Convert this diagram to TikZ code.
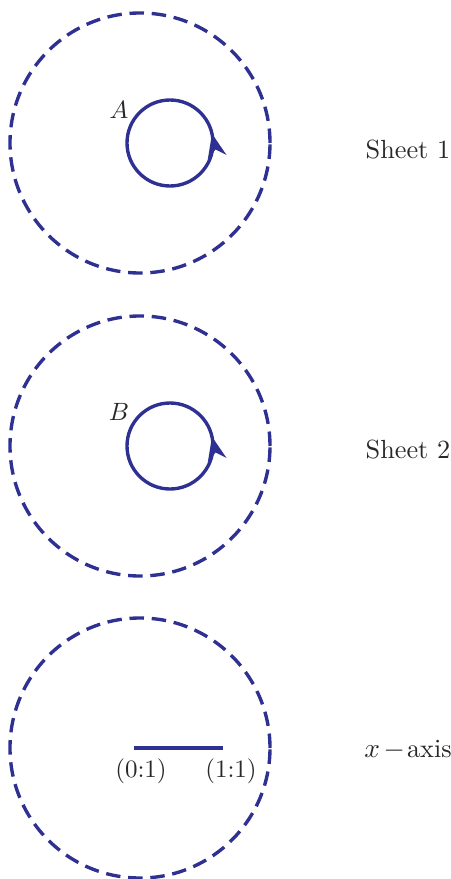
\documentclass[tikz,border=0pt]{standalone}
\usetikzlibrary{arrows.meta,decorations.markings}
\definecolor{sheetblue}{RGB}{46,49,146}
\definecolor{txt}{RGB}{40,40,40}
\begin{document}
\begin{tikzpicture}[x=0.4pt,y=0.4pt,
  outer/.style={draw=sheetblue,line width=1.35pt,dash pattern=on 5.8pt off 3.1pt},
  loopc/.style={draw=sheetblue,line width=1.35pt,postaction={decorate},
    decoration={markings,mark=at position 0.035 with {\arrow{Stealth[length=9.5pt,width=7.5pt,inset=3pt]}}}},
  lbl/.style={text=txt,font=\normalsize},
  side/.style={text=txt,font=\fontsize{10.5}{12}\selectfont},
  seg/.style={draw=sheetblue,line width=1.35pt}]
\useasboundingbox (0,0) rectangle (451,-879);
% Sheet 1
\draw[outer] (140,-143) circle (130);
\draw[loopc] (170,-143) circle (43);
\node[lbl] (A) at (119,-110) {$A$};
\node[side] (s1) at (408,-150) {Sheet 1};
% Sheet 2
\draw[outer] (140,-446) circle (130);
\draw[loopc] (170,-446) circle (43);
\node[lbl] (B) at (119,-412) {$B$};
\node[side] (s2) at (408,-450) {Sheet 2};
% x-axis
\draw[outer] (140,-748) circle (130);
\coordinate (p0) at (134,-748);
\coordinate (p1) at (223,-748);
\draw[seg] (p0) -- (p1);
\node[lbl] (l0) at (141,-771) {(0:1)};
\node[lbl] (l1) at (231,-771) {(1:1)};
\node[side] (xa) at (408,-750) {$x$\kern1.5pt$-$\kern0.8pt axis};
\end{tikzpicture}
\end{document}
